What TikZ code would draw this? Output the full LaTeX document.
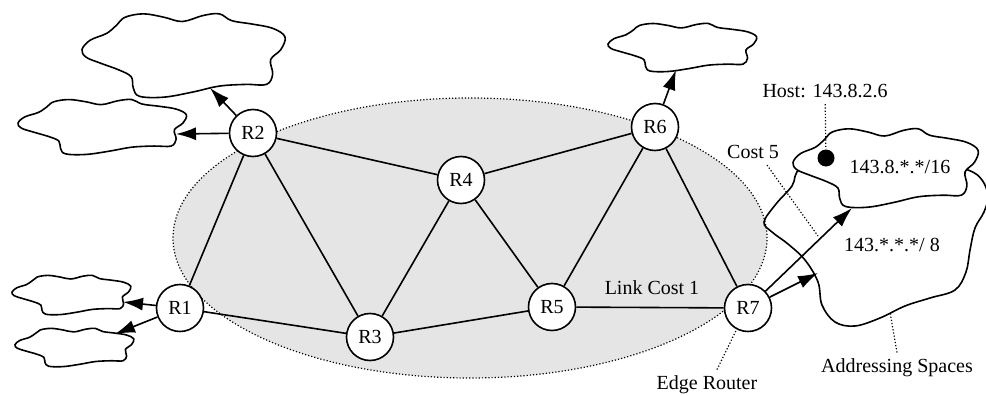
\documentclass[tikz,border=0pt]{standalone}
\usepackage{fontspec}
\setmainfont{Liberation Serif}
\usetikzlibrary{arrows.meta}

\tikzset{
  router/.style={circle, draw, fill=white, line width=0.8pt, minimum size=23.5pt, inner sep=0pt, font=\fontsize{10}{12}\selectfont},
  link/.style={line width=0.8pt},
  cloudline/.style={line width=0.8pt, fill=white},
  feed/.style={-{Latex[length=10pt,width=6.5pt]}, line width=0.8pt},
  leader/.style={densely dotted, line width=0.6pt},
  lbl/.style={font=\fontsize{10}{12}\selectfont, inner sep=3pt},
  hostdot/.style={circle, fill=black, minimum size=8.5pt, inner sep=0pt}
}

% one wavy blob in a unit box, placed at (x,y) with width w and height h
\newcommand{\drawcloud}[4]{%
  \begin{scope}[shift={(#1,#2)}, xscale=#3, yscale=#4]
    \draw[cloudline] plot[smooth cycle, tension=0.6] coordinates {
      (0,0.43) (0.04,0.32) (0.12,0.24) (0.17,0.14) (0.21,0.05) (0.30,0.01)
      (0.40,0.05) (0.49,0.10) (0.59,0.03) (0.67,0.01) (0.73,0.09) (0.83,0.13)
      (0.93,0.18) (0.99,0.28) (0.97,0.43) (0.92,0.55) (0.93,0.72) (0.90,0.84)
      (0.80,0.84) (0.67,0.86) (0.54,0.93) (0.40,0.99) (0.28,0.98) (0.25,0.88)
      (0.24,0.75) (0.18,0.67) (0.09,0.59) (0.02,0.52)};
  \end{scope}}

\begin{document}
\begin{tikzpicture}[x=0.5pt, y=-0.5pt]
    \useasboundingbox (0,0) rectangle (986,396);

    % routing domain
    \draw[densely dotted, line width=0.6pt, fill=gray!20] (470,238) ellipse [x radius=148.5pt, y radius=70pt];

    % address clouds
    \drawcloud{82}{13}{205}{85}
    \drawcloud{18}{99}{170}{56}
    \drawcloud{12}{275}{120}{40}
    \drawcloud{15}{328}{120}{39}
    \drawcloud{608}{23}{150}{49}

    \draw[line width=0.8pt] plot[smooth cycle, tension=0.6] coordinates {
      (764,222) (776,204) (792,186) (802,168) (850,160) (930,160) (968,170)
      (982,180) (988,196) (984,212) (975,228) (970,250) (966,272) (955,290)
      (930,298) (905,306) (880,318) (855,326) (835,322) (822,305) (818,282)
      (805,260) (788,244) (772,232)};
    \drawcloud{793}{128}{187}{80}

    % routers
    \node[router] (R1) at (180,308) {R1};
    \node[router] (R2) at (253,133) {R2};
    \node[router] (R3) at (370,337) {R3};
    \node[router] (R4) at (461,180) {R4};
    \node[router] (R5) at (552,307) {R5};
    \node[router] (R6) at (655,127) {R6};
    \node[router] (R7) at (748,308) {R7};

    \foreach \a/\b in {R1/R2, R1/R3, R2/R3, R2/R4, R3/R4, R3/R5, R4/R5, R4/R6, R5/R6, R5/R7, R6/R7}
      \draw[link] (\a) -- (\b);

    % arrow ends on the clouds
    \coordinate (tA) at (210,88);
    \coordinate (tB) at (176,134);
    \coordinate (tC) at (123,302);
    \coordinate (tD) at (115,334);
    \coordinate (tE) at (676,70);
    \coordinate (tS) at (852,208);
    \coordinate (tL) at (818,273);

    \draw[feed] (R2) -- (tA);
    \draw[feed] (R2) -- (tB);
    \draw[feed] (R1) -- (tC);
    \draw[feed] (R1) -- (tD);
    \draw[feed] (R6) -- (tE);
    \draw[feed] (R7) -- (tS);
    \draw[feed] (R7) -- (tL);

    % labels
    \node[lbl] (host) at (825,91) {Host: 143.8.2.6};
    \node[hostdot] (dot) at (826,158) {};
    \node[lbl] (net16) at (900,167) {143.8.*.*/16};
    \node[lbl] (net8) at (892,245) {143.*.*.*/ 8};
    \node[lbl] (cost5) at (753,152) {Cost 5};
    \node[lbl] (cost1) at (652,288) {Link Cost 1};
    \node[lbl] (edge) at (707,385) {Edge Router};
    \node[lbl] (addr) at (897,368) {Addressing Spaces};

    \coordinate (c5end) at (818,236);
    \coordinate (bigbot) at (890,312);

    \draw[leader] (host) -- (dot);
    \draw[leader] ([xshift=7pt]cost5.south) -- (c5end);
    \draw[leader] ([xshift=5pt]edge.north) -- (R7.-118);
    \draw[leader] (addr.north) -- (bigbot);
\end{tikzpicture}
\end{document}
